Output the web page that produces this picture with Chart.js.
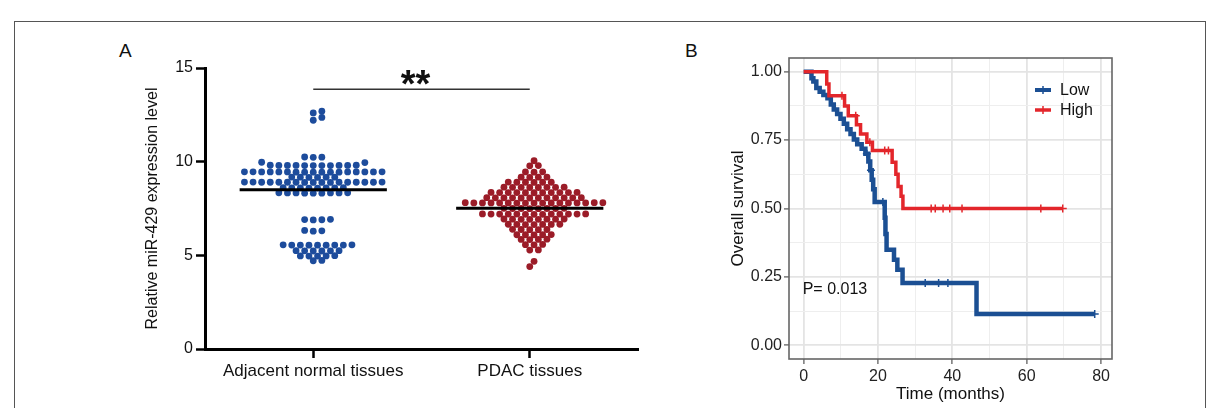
<!DOCTYPE html>
<html>
<head>
<meta charset="utf-8">
<script src="https://cdn.jsdelivr.net/npm/chart.js@4.4.1/dist/chart.umd.min.js"></script>
<style>
  body { margin: 0; background: #fff; font-family: "Liberation Sans", Arial, sans-serif; }
  #page { position: relative; width: 1219px; height: 408px; overflow: hidden; }
  #frame { position: absolute; left: 14px; top: 21px; width: 1190px; height: 420px; border: 1.5px solid #555; }
  .panel { position: absolute; font-size: 19px; line-height: 19px; color: #111; }
  #boxA { position: absolute; left: 100px; top: 30px; width: 560px; height: 378px; }
  #boxB { position: absolute; left: 720px; top: 40px; width: 410px; height: 368px; }
</style>
</head>
<body>
<div id="page">
  <div id="frame"></div>
  <div class="panel" style="left:119px;top:41px">A</div>
  <div class="panel" style="left:685px;top:41px">B</div>
  <div id="boxA"><canvas id="cA" width="560" height="378"></canvas></div>
  <div id="boxB"><canvas id="cB" width="410" height="368"></canvas></div>
</div>
<script>
// ---- panel A data ----
const groups = ["Adjacent normal tissues", "PDAC tissues"];
const normalValues = [
  12.69, 12.6, 12.36, 12.21,
  10.25, 10.24, 10.23,
  9.97, 9.95,
  9.81, 9.81, 9.8, 9.8, 9.8, 9.8, 9.8, 9.79, 9.79, 9.79, 9.79,
  9.46, 9.46, 9.46, 9.45, 9.45, 9.45, 9.45, 9.45, 9.45, 9.45, 9.45, 9.44, 9.44, 9.44, 9.44, 9.44, 9.44,
  9.18, 9.17, 9.17, 9.17, 9.16, 9.16,
  8.91, 8.91, 8.91, 8.9, 8.9, 8.9, 8.9, 8.9, 8.9, 8.9, 8.9, 8.9, 8.9, 8.89, 8.89, 8.89, 8.89,
  8.61, 8.61, 8.6, 8.6, 8.6, 8.6, 8.59, 8.59,
  8.34, 8.34, 8.33, 8.33, 8.33, 8.33, 8.32, 8.32, 8.32,
  6.92, 6.91, 6.9, 6.89,
  6.33, 6.31, 6.29,
  5.56, 5.56, 5.55, 5.55, 5.55, 5.55, 5.54, 5.54, 5.54,
  5.25, 5.25, 5.24, 5.24, 5.23, 5.23,
  4.98, 4.97, 4.97, 4.96, 4.96,
  4.73, 4.71
];
const pdacValues = [
  10.05,
  9.79, 9.78,
  9.46, 9.45, 9.44,
  9.18, 9.17, 9.17, 9.16,
  8.91, 8.9, 8.9, 8.9, 8.9, 8.89,
  8.64, 8.64, 8.63, 8.63, 8.63, 8.63, 8.62, 8.62,
  8.36, 8.36, 8.35, 8.35, 8.35, 8.35, 8.35, 8.35, 8.34, 8.34, 8.34,
  8.08, 8.08, 8.07, 8.07, 8.07, 8.07, 8.07, 8.07, 8.07, 8.06, 8.06, 8.06,
  7.81, 7.81, 7.81, 7.8, 7.8, 7.8, 7.8, 7.8, 7.8, 7.8, 7.8, 7.8, 7.8, 7.79, 7.79, 7.79, 7.79,
  7.51, 7.51, 7.5, 7.5, 7.5, 7.5, 7.49, 7.49,
  7.21, 7.21, 7.2, 7.2, 7.2, 7.2, 7.2, 7.2, 7.2, 7.2, 7.19, 7.19, 7.19,
  6.94, 6.94, 6.93, 6.93, 6.93, 6.92, 6.92, 6.92,
  6.66, 6.66, 6.65, 6.65, 6.65, 6.64, 6.64,
  6.39, 6.38, 6.38, 6.37, 6.37,
  6.11, 6.1, 6.1, 6.1, 6.09,
  5.86, 5.85, 5.85, 5.84,
  5.58, 5.57, 5.56,
  5.29, 5.28,
  4.68,
  4.4
];
const groupMeans = [8.5, 7.52];
const yTicksA = [0, 5, 10, 15];
const sigLevel = 13.87;
const sigLabel = "**";

// ---- panel B data ----
const lowTime = [0, 2.1, 2.6, 3.4, 4.3, 5.3, 6.4, 7.3, 8.1, 9.0, 9.9, 10.8, 11.7, 12.6, 13.5, 14.4, 15.6, 16.6, 17.4, 17.9,
  18.3, 18.7, 19.1, 21.8, 22.0, 22.3, 24.3, 25.2, 26.6, 46.5, 78.3];
const lowSurv = [1, 0.976, 0.964, 0.94, 0.927, 0.915, 0.903, 0.88, 0.862, 0.845, 0.828, 0.81, 0.79, 0.772, 0.752, 0.735, 0.718, 0.70, 0.672, 0.64,
  0.605, 0.57, 0.524, 0.466, 0.407, 0.349, 0.313, 0.276, 0.228, 0.114, 0.114];
const lowCensor = [17.0, 18.1, 21.3, 32.7, 36.3, 38.8, 78.3];
const highTime = [0, 6.2, 6.8, 11.0, 12.0, 14.2, 15.3, 17.0, 18.5, 23.8, 24.8, 25.4, 26.2, 26.7, 69.7];
const highSurv = [1, 0.955, 0.912, 0.875, 0.839, 0.806, 0.772, 0.742, 0.712, 0.669, 0.625, 0.58, 0.545, 0.5, 0.5];
const highCensor = [10.3, 14.0, 17.8, 21.8, 22.8, 34.3, 35.4, 37.5, 39.3, 42.6, 63.8, 69.7];
const xTicksB = [0, 10, 20, 30, 40, 50, 60, 70, 80];
const yTicksB = [0, 0.125, 0.25, 0.375, 0.5, 0.625, 0.75, 0.875, 1];
const pValueText = "P= 0.013";

const BLUE_DOT = "#1d4c9c", RED_DOT = "#9b1c28";
const BLUE_KM = "#1b4f93", RED_KM = "#e3262b";
const FONT = "'Liberation Sans', Arial, sans-serif";
const DOT_STEP = 8.6, DOT_GAP = 6.0, MEAN_HALF = 0.34;

Chart.defaults.font.family = FONT;
Chart.defaults.color = "#111";

// place dots side by side where their values collide (Prism-like scatter)
function swarm(values, center, chart) {
  const xs = chart.scales.x, ys = chart.scales.y;
  const pxX = xs.getPixelForValue(1) - xs.getPixelForValue(0);
  const pxY = ys.getPixelForValue(0) - ys.getPixelForValue(1);
  const placed = [];
  return values.slice().sort((a, b) => a - b).map(v => {
    const py = v * pxY;
    let dx = 0;
    for (let k = 0; k < 80; k++) {
      dx = k === 0 ? 0 : (k % 2 ? 1 : -1) * Math.ceil(k / 2) * DOT_STEP / 2;
      if (!placed.some(p => (p.dx - dx) ** 2 + (p.py - py) ** 2 < DOT_GAP ** 2)) break;
    }
    placed.push({ dx, py });
    return { x: center + dx / pxX, y: v };
  });
}

const meanLine = i => [{ x: i + 0.5 - MEAN_HALF, y: groupMeans[i] }, { x: i + 0.5 + MEAN_HALF, y: groupMeans[i] }];

const starsPlugin = {
  id: "stars",
  afterDraw(chart) {
    const { ctx, scales } = chart;
    ctx.save();
    ctx.font = "bold 38px " + FONT;
    ctx.fillStyle = "#111";
    ctx.textAlign = "center";
    ctx.textBaseline = "alphabetic";
    ctx.fillText(sigLabel, scales.x.getPixelForValue(1) - 6, scales.y.getPixelForValue(sigLevel) + 8);
    ctx.restore();
  }
};

const chartA = new Chart(document.getElementById("cA"), {
  type: "scatter",
  data: {
    datasets: [
      { type: "line", data: meanLine(0), borderColor: "#000", borderWidth: 3, pointRadius: 0 },
      { type: "line", data: meanLine(1), borderColor: "#000", borderWidth: 3, pointRadius: 0 },
      { type: "line", data: [{ x: 0.5, y: sigLevel }, { x: 1.5, y: sigLevel }], borderColor: "#333", borderWidth: 1.5, pointRadius: 0 },
      { data: [], backgroundColor: BLUE_DOT, borderWidth: 0, pointRadius: 3.4 },
      { data: [], backgroundColor: RED_DOT, borderWidth: 0, pointRadius: 3.4 }
    ]
  },
  options: {
    responsive: false,
    animation: false,
    layout: { padding: { top: 38, right: 22, left: 0, bottom: 0 } },
    plugins: { legend: { display: false }, tooltip: { enabled: false } },
    scales: {
      x: {
        type: "linear", min: 0, max: 2,
        afterBuildTicks: s => { s.ticks = [{ value: 0.5 }, { value: 1.5 }]; },
        afterFit: s => { s.height = 59; },
        grid: { drawOnChartArea: false, tickLength: 9, tickWidth: 2.5, tickColor: "#000" },
        border: { display: true, width: 3, color: "#000" },
        ticks: { callback: (v, i) => groups[i], font: { size: 17 }, color: "#111", padding: 3, maxRotation: 0, autoSkip: false }
      },
      y: {
        min: 0, max: 15,
        afterBuildTicks: s => { s.ticks = yTicksA.map(v => ({ value: v })); },
        afterFit: s => { s.width = 105; },
        grid: { drawOnChartArea: false, tickLength: 9, tickWidth: 2.5, tickColor: "#000" },
        border: { display: true, width: 3, color: "#000" },
        ticks: { font: { size: 16 }, color: "#111", padding: 3 },
        title: { display: true, text: "Relative miR-429 expression level", font: { size: 16 }, color: "#111", padding: { top: 43, bottom: 0 } }
      }
    }
  },
  plugins: [starsPlugin]
});
chartA.data.datasets[3].data = swarm(normalValues, 0.5, chartA);
chartA.data.datasets[4].data = swarm(pdacValues, 1.5, chartA);
chartA.update("none");

// ---- panel B ----
const steps = (t, s) => t.map((v, i) => ({ x: v, y: s[i] }));
function survAt(times, surv, t) {
  let s = surv[0];
  times.forEach((v, i) => { if (v <= t) s = surv[i]; });
  return s;
}
const censorPts = (c, t, s) => c.map(v => ({ x: v, y: survAt(t, s, v) }));
const isMajorX = v => Math.abs(v % 20) < 1e-6;
const isMajorY = v => Math.abs((v * 4) - Math.round(v * 4)) < 1e-6;

const kmPlugin = {
  id: "km",
  afterDraw(chart) {
    const { ctx, chartArea: a, scales } = chart;
    ctx.save();
    ctx.strokeStyle = "#666";
    ctx.lineWidth = 1.6;
    ctx.strokeRect(a.left, a.top, a.right - a.left, a.bottom - a.top);
    ctx.font = "16px " + FONT;
    ctx.fillStyle = "#111";
    ctx.textBaseline = "middle";
    ctx.textAlign = "left";
    ctx.fillText(pValueText, scales.x.getPixelForValue(0) - 1, scales.y.getPixelForValue(0.204));
    [["Low", BLUE_KM, 4], ["High", RED_KM, 3.5]].forEach(([name, col, w], i) => {
      const y = a.top + 32 + i * 20;
      const x0 = a.right - 77;
      ctx.strokeStyle = col;
      ctx.lineWidth = w;
      ctx.beginPath(); ctx.moveTo(x0, y); ctx.lineTo(x0 + 16, y); ctx.stroke();
      ctx.lineWidth = 1.5;
      ctx.beginPath(); ctx.moveTo(x0 + 8, y - 4); ctx.lineTo(x0 + 8, y + 4); ctx.stroke();
      ctx.fillStyle = "#111";
      ctx.fillText(name, x0 + 25, y + 1);
    });
    ctx.restore();
  }
};

new Chart(document.getElementById("cB"), {
  type: "scatter",
  data: {
    datasets: [
      { data: censorPts(highCensor, highTime, highSurv), pointStyle: "cross", pointRadius: 4, borderColor: RED_KM, borderWidth: 1.5 },
      { type: "line", data: steps(highTime, highSurv), stepped: "before", borderColor: RED_KM, borderWidth: 3.5, pointRadius: 0, fill: false },
      { data: censorPts(lowCensor, lowTime, lowSurv), pointStyle: "cross", pointRadius: 4, borderColor: BLUE_KM, borderWidth: 1.5 },
      { type: "line", data: steps(lowTime, lowSurv), stepped: "before", borderColor: BLUE_KM, borderWidth: 4.5, pointRadius: 0, fill: false }
    ]
  },
  options: {
    responsive: false,
    animation: false,
    layout: { padding: { top: 18, right: 18, left: 0, bottom: 0 } },
    plugins: { legend: { display: false }, tooltip: { enabled: false } },
    scales: {
      x: {
        type: "linear", min: -3.95, max: 82.95,
        afterBuildTicks: s => { s.ticks = xTicksB.map(v => ({ value: v })); },
        afterFit: s => { s.height = 49; },
        grid: {
          color: c => isMajorX(c.tick.value) ? "#e4e4e4" : "#eeeeee",
          lineWidth: c => isMajorX(c.tick.value) ? 1.8 : 1,
          tickColor: c => isMajorX(c.tick.value) ? "#555" : "rgba(0,0,0,0)",
          tickWidth: 1.2, tickLength: 5
        },
        border: { display: false },
        ticks: { callback: v => isMajorX(v) ? String(v) : "", font: { size: 16 }, color: "#222", padding: 3, maxRotation: 0, autoSkip: false },
        title: { display: true, text: "Time (months)", font: { size: 17 }, color: "#111", padding: { top: 0, bottom: 3 } }
      },
      y: {
        min: -0.05, max: 1.05,
        afterBuildTicks: s => { s.ticks = yTicksB.map(v => ({ value: v })); },
        afterFit: s => { s.width = 69; },
        grid: {
          color: c => isMajorY(c.tick.value) ? "#e4e4e4" : "#eeeeee",
          lineWidth: c => isMajorY(c.tick.value) ? 1.8 : 1,
          tickColor: c => isMajorY(c.tick.value) ? "#555" : "rgba(0,0,0,0)",
          tickWidth: 1.2, tickLength: 5
        },
        border: { display: false },
        ticks: { callback: v => isMajorY(v) ? v.toFixed(2) : "", font: { size: 16 }, color: "#222", padding: 2, autoSkip: false },
        title: { display: true, text: "Overall survival", font: { size: 17 }, color: "#111", padding: { top: 8, bottom: 0 } }
      }
    }
  },
  plugins: [kmPlugin]
});
</script>
</body>
</html>
